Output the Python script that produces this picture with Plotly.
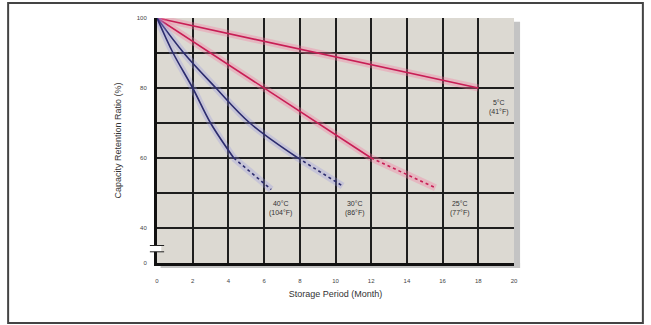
import plotly.graph_objects as go

# ---- data ----
months_5c = [0, 18]
ret_5c = [100, 80]

months_25c = [0, 12]
ret_25c = [100, 60]
months_25c_ext = [12, 15.6]
ret_25c_ext = [60, 51.5]

months_30c = [0, 1.5, 3.3, 5.2, 7.9]
ret_30c = [100, 90, 80, 70, 60]
months_30c_ext = [7.9, 10.4]
ret_30c_ext = [60, 52]

months_40c = [0, 0.9, 2.0, 3.0, 4.3]
ret_40c = [100, 90, 80, 70, 60]
months_40c_ext = [4.3, 6.4]
ret_40c_ext = [60, 51]

x_ticks = [0, 2, 4, 6, 8, 10, 12, 14, 16, 18, 20]
x_ticktext = ["0", "2", "4", "6", "8", "10", "12", "14", "16", "18", "20"]
y_ticks = [30, 40, 50, 60, 70, 80, 90, 100]
y_ticktext = ["0", "40", "", "60", "", "80", "", "100"]

labels = ["5°C<br>(41°F)", "25°C<br>(77°F)", "30°C<br>(86°F)", "40°C<br>(104°F)"]
label_x = [19.15, 17.0, 11.1, 6.9]
label_y = [74.5, 45.5, 45.5, 45.5]

RED = "#c81e55"
RED_GLOW = "rgba(245,120,160,0.35)"
BLUE = "#2c2c6e"
BLUE_GLOW = "rgba(150,150,230,0.30)"

fig = go.Figure()


def add_line(x, y, color, glow, dash, shape="linear"):
    fig.add_trace(go.Scatter(x=x, y=y, mode="lines",
                             line=dict(color=glow, width=7, shape=shape, smoothing=1.0),
                             hoverinfo="skip", showlegend=False))
    fig.add_trace(go.Scatter(x=x, y=y, mode="lines",
                             line=dict(color=color, width=1.6, dash=dash, shape=shape, smoothing=1.0),
                             showlegend=False))


add_line(months_5c, ret_5c, RED, RED_GLOW, "solid")
add_line(months_25c, ret_25c, RED, RED_GLOW, "solid")
add_line(months_25c_ext, ret_25c_ext, RED, RED_GLOW, "dot")
add_line(months_30c, ret_30c, BLUE, BLUE_GLOW, "solid", "spline")
add_line(months_30c_ext, ret_30c_ext, BLUE, BLUE_GLOW, "dot")
add_line(months_40c, ret_40c, BLUE, BLUE_GLOW, "solid", "spline")
add_line(months_40c_ext, ret_40c_ext, BLUE, BLUE_GLOW, "dot")

for t, x, y in zip(labels, label_x, label_y):
    fig.add_annotation(x=x, y=y, text=t, showarrow=False,
                       font=dict(size=7, color="#333333", family="Liberation Sans"),
                       align="center")

fig.update_xaxes(range=[0, 20], tickvals=x_ticks, ticktext=x_ticktext,
                 automargin=False,
                 showgrid=True, gridcolor="#1e1e1e", gridwidth=2.2,
                 showline=True, linecolor="#111111", linewidth=3, mirror=False,
                 ticks="outside", ticklen=10, tickcolor="rgba(0,0,0,0)",
                 tickfont=dict(size=6, color="#444444"),
                 title=dict(text="Storage Period (Month)", standoff=8,
                            font=dict(size=9, color="#333333")),
                 zeroline=False)
fig.update_yaxes(range=[30, 100], tickvals=y_ticks, ticktext=y_ticktext,
                 automargin=False,
                 showgrid=True, gridcolor="#1e1e1e", gridwidth=2.2,
                 showline=True, linecolor="#111111", linewidth=3,
                 ticks="outside", ticklen=6, tickcolor="rgba(0,0,0,0)",
                 tickfont=dict(size=6, color="#444444"),
                 title=dict(text="Capacity Retention Ratio (%)", standoff=14,
                            font=dict(size=9, color="#333333")),
                 zeroline=False)

shapes = [
    # drop shadow of the plot panel
    dict(type="rect", xref="paper", yref="paper", x0=1.0, x1=1.017, y0=-0.02, y1=0.985,
         fillcolor="#c4c4c4", line_width=0, layer="below"),
    dict(type="rect", xref="paper", yref="paper", x0=0.01, x1=1.017, y0=-0.02, y1=0.0,
         fillcolor="#c4c4c4", line_width=0, layer="below"),
    # outer frame
    dict(type="rect", xref="paper", yref="paper", x0=-0.417, x1=1.361, y0=-0.245, y1=1.061,
         line=dict(color="#444444", width=2), fillcolor="rgba(0,0,0,0)"),
    # axis break mark
    dict(type="rect", xref="paper", yref="y", x0=-0.012, x1=0.012, y0=33.2, y1=35.0,
         fillcolor="white", line_width=0),
    dict(type="line", xref="paper", yref="y", x0=-0.02, x1=0.02, y0=33.2, y1=33.2,
         line=dict(color="#222222", width=1)),
    dict(type="line", xref="paper", yref="y", x0=-0.02, x1=0.02, y0=35.0, y1=35.0,
         line=dict(color="#222222", width=1)),
]

fig.update_layout(
    width=651, height=325,
    margin=dict(l=157, r=137, t=18, b=62),
    paper_bgcolor="white",
    plot_bgcolor="#dcd9d2",
    font=dict(family="Liberation Sans", color="#333333"),
    shapes=shapes,
    showlegend=False,
)

fig.write_html("out.html",
               config={"displayModeBar": False},
               post_script="document.body.style.margin='0';document.body.style.overflow='hidden';")
